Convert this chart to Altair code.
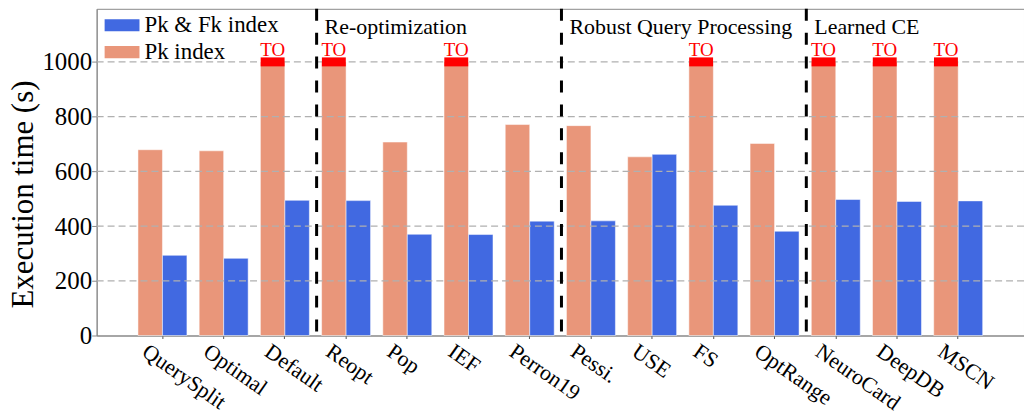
import altair as alt
import pandas as pd

methods = ["QuerySplit", "Optimal", "Default", "Reopt", "Pop", "IEF", "Perron19",
           "Pessi.", "USE", "FS", "OptRange", "NeuroCard", "DeepDB", "MSCN"]
pk_index = [679, 675, 1000, 1000, 707, 1000, 771, 767, 653, 1000, 702, 1000, 1000, 1000]
pk_fk_index = [293, 282, 494, 493, 370, 369, 418, 419, 662, 476, 381, 497, 490, 492]
timeout = [False, False, True, True, False, True, False, False, False, True, False, True, True, True]
groups = ["Re-optimization", "Robust Query Processing", "Learned CE"]
group_first = ["Reopt", "Pessi.", "NeuroCard"]
grid_values = [200, 400, 600, 800, 1000]
y_ticks = [0, 200, 400, 600, 800, 1000]
series = ["Pk & Fk index", "Pk index"]
series_colors = ["#4169E1", "#E9967A"]
bar_order = ["Pk index", "Pk & Fk index"]

FONT = "Liberation Serif"
W, H = 931, 328

rows = []
for m, a, b, t in zip(methods, pk_index, pk_fk_index, timeout):
    rows.append({"method": m, "series": "Pk index", "value": a, "to": t})
    rows.append({"method": m, "series": "Pk & Fk index", "value": b, "to": False})
df = pd.DataFrame(rows)
df_to = df[df["to"]].copy()
df_groups = pd.DataFrame({"method": group_first, "label": groups})
df_grid = pd.DataFrame({"value": grid_values})

x_scale = alt.Scale(paddingInner=0.2, paddingOuter=0.675)
y_scale = alt.Scale(domain=[0, 1194], nice=False)
xo = alt.XOffset("series:N", sort=bar_order, scale=alt.Scale(paddingInner=0, paddingOuter=0))

x_axis = alt.Axis(labelAngle=35, labelAlign="left", labelBaseline="top",
                  labelOffset=-12, labelPadding=2, tickSize=3,
                  labelFont=FONT, labelFontSize=22, labelColor="black",
                  labelOverlap=False, domainColor="#888888", tickColor="#555555")
y_axis = alt.Axis(values=y_ticks, format="d", grid=False, tickSize=5, labelPadding=0,
                  labelFont=FONT, labelFontSize=25, labelColor="black",
                  titleFont=FONT, titleFontSize=31, titleFontWeight="normal",
                  titleColor="black", titleX=-57, titleY=186,
                  titleBaseline="bottom",
                  domainColor="#888888", tickColor="#888888")

x_main = alt.X("method:N", sort=methods, scale=x_scale, title=None, axis=x_axis)
y_main = alt.Y("value:Q", scale=y_scale, title="Execution time (s)", axis=y_axis)

bars = alt.Chart(df).mark_bar(stroke="white", strokeWidth=1, strokeOpacity=0.5).encode(
    x=x_main,
    xOffset=xo,
    y=y_main,
    color=alt.Color("series:N", scale=alt.Scale(domain=series, range=series_colors),
                    legend=alt.Legend(orient="none", legendX=14, legendY=5, title=None,
                                      symbolType="M-2,-0.7L2,-0.7L2,0.7L-2,0.7Z",
                                      symbolSize=306, symbolStrokeWidth=0,
                                      labelFont=FONT, labelFontSize=23, labelColor="black",
                                      labelOffset=11, rowPadding=3, padding=0)),
)

grid = alt.Chart(df_grid).mark_rule(color="#b0b0b0", strokeDash=[7, 4], strokeWidth=1.2).encode(
    y=alt.Y("value:Q", scale=y_scale, title="Execution time (s)", axis=y_axis)
)

dividers = alt.Chart(df_groups).mark_rule(color="black", strokeWidth=3, strokeDash=[12, 12],
                                           xOffset=-5).encode(
    x=alt.X("method:N", sort=methods, bandPosition=0, title=None, axis=x_axis),
    y=alt.value(0),
    y2=alt.value(H),
)

group_text = alt.Chart(df_groups).mark_text(align="left", baseline="alphabetic", font=FONT,
                                            fontSize=22, color="black", dx=3).encode(
    x=alt.X("method:N", sort=methods, bandPosition=0, title=None, axis=x_axis),
    y=alt.value(25),
    text="label:N",
)

caps = alt.Chart(df_to).mark_tick(color="red", thickness=9, size=24, opacity=1).encode(
    x=alt.X("method:N", sort=methods, title=None, axis=x_axis),
    xOffset=xo,
    y=alt.Y("value:Q", scale=y_scale, title="Execution time (s)", axis=y_axis),
)

to_text = alt.Chart(df_to).mark_text(text="TO", color="red", font=FONT, fontSize=19,
                                     baseline="alphabetic", dy=-6).encode(
    x=alt.X("method:N", sort=methods, title=None, axis=x_axis),
    xOffset=xo,
    y=alt.Y("value:Q", scale=y_scale, title="Execution time (s)", axis=y_axis),
)

chart = alt.layer(bars, grid, dividers, group_text, caps, to_text).properties(
    width=W, height=H,
    autosize=alt.AutoSizeParams(type="none"),
    padding={"left": 89, "top": 0, "right": 0, "bottom": 80},
).configure(font=FONT).configure_view(stroke="#888888", strokeWidth=1).configure_axis(
    labelFont=FONT, titleFont=FONT, labelFontWeight="normal"
).configure_legend(labelFont=FONT, labelFontSize=23)

chart.save("out.html", embed_options={"renderer": "svg", "actions": False})
